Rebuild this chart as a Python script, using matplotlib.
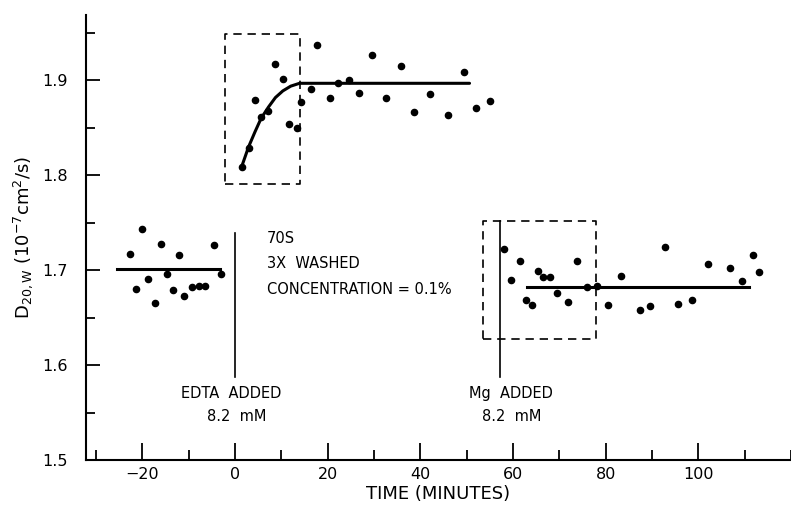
import matplotlib
matplotlib.use("Agg")
import matplotlib.pyplot as plt
from matplotlib.ticker import MultipleLocator

plt.rcParams['font.family'] = ['DejaVu Sans']

# ---- data ----
pre_t = [-22.7, -21.4, -20.0, -18.9, -17.4, -16.1, -14.7, -13.5, -12.2, -11.0,
         -9.3, -7.9, -6.5, -4.5, -3.0]
pre_d = [1.717, 1.680, 1.743, 1.691, 1.665, 1.728, 1.696, 1.679, 1.716, 1.673,
         1.682, 1.683, 1.683, 1.727, 1.696]

edta_t = [1.45, 2.96, 4.38, 5.55, 7.19, 8.64, 10.43, 11.6, 13.3, 14.3, 16.4, 17.6,
          20.4, 22.3, 24.5, 26.8, 29.6, 32.6, 35.8, 38.7, 42.0, 46.0, 49.5, 52.1, 55.1]
edta_d = [1.809, 1.829, 1.879, 1.861, 1.868, 1.917, 1.902, 1.854, 1.850, 1.877,
          1.891, 1.937, 1.882, 1.897, 1.900, 1.887, 1.927, 1.881, 1.915, 1.867,
          1.886, 1.864, 1.909, 1.871, 1.878]

mg_t = [58.1, 59.6, 61.4, 62.8, 64.1, 65.3, 66.5, 68.0, 69.5, 71.9, 73.9, 76.0,
        78.1, 80.6, 83.2, 87.5, 89.6, 92.9, 95.6, 98.7, 102.0, 106.9, 109.4, 111.7, 113.1]
mg_d = [1.722, 1.690, 1.710, 1.669, 1.663, 1.699, 1.693, 1.693, 1.676, 1.666,
        1.710, 1.682, 1.683, 1.663, 1.694, 1.658, 1.662, 1.724, 1.664, 1.669,
        1.707, 1.702, 1.689, 1.716, 1.698]

# fitted lines
pre_fit_t = [-25.5, -3.2]
pre_fit_d = [1.701, 1.701]
rise_fit_t = [1.4, 2.9, 4.3, 5.6, 7.2, 8.7, 10.3, 12.0, 13.9, 50.6]
rise_fit_d = [1.809, 1.830, 1.846, 1.860, 1.872, 1.882, 1.889, 1.894, 1.897, 1.897]
mg_fit_t = [63.0, 110.9]
mg_fit_d = [1.682, 1.682]

# event markers
edta_line_t = [0.0, 0.0]
edta_line_d = [1.587, 1.739]
mg_line_t = [57.2, 57.2]
mg_line_d = [1.587, 1.752]

# dashed boxes
box1_t = [-2.2, 14.0]
box1_d = [1.791, 1.949]
box2_t = [53.5, 78.0]
box2_d = [1.627, 1.752]

xticks_major = [-20, 0, 20, 40, 60, 80, 100]
yticks_major = [1.5, 1.6, 1.7, 1.8, 1.9]

# ---- figure ----
fig = plt.figure(figsize=(7.91, 5.13), dpi=100)
ax = fig.add_axes([0.1087, 0.1033, 0.8913, 0.8675])
ax.set_xlim(-32.2, 120)
ax.set_ylim(1.5, 1.969)

ax.scatter(pre_t, pre_d, s=20, color='black', zorder=3)
ax.scatter(edta_t, edta_d, s=20, color='black', zorder=3)
ax.scatter(mg_t, mg_d, s=20, color='black', zorder=3)

ax.plot(pre_fit_t, pre_fit_d, color='black', lw=2.2)
ax.plot(rise_fit_t, rise_fit_d, color='black', lw=2.2, solid_capstyle='round')
ax.plot(mg_fit_t, mg_fit_d, color='black', lw=2.2)

ax.plot(edta_line_t, edta_line_d, color='black', lw=1.2)
ax.plot(mg_line_t, mg_line_d, color='black', lw=1.2)

for bt, bd in [(box1_t, box1_d), (box2_t, box2_d)]:
    ax.plot([bt[0], bt[1], bt[1], bt[0], bt[0]],
            [bd[0], bd[0], bd[1], bd[1], bd[0]],
            color='black', lw=1.2, ls=(0, (5, 3.5)))

tfont = dict(fontsize=10.5, color='black')
ax.text(6.8, 1.733, "70S", ha='left', va='center', **tfont)
ax.text(6.8, 1.707, "3X  WASHED", ha='left', va='center', **tfont)
ax.text(6.8, 1.680, "CONCENTRATION = 0.1%", ha='left', va='center', **tfont)
ax.text(-0.8, 1.570, "EDTA  ADDED", ha='center', va='center', **tfont)
ax.text(0.3, 1.546, "8.2  mM", ha='center', va='center', **tfont)
ax.text(59.6, 1.570, "Mg  ADDED", ha='center', va='center', **tfont)
ax.text(59.6, 1.546, "8.2  mM", ha='center', va='center', **tfont)

# axes styling
for s in ['top', 'right']:
    ax.spines[s].set_visible(False)
for s in ['left', 'bottom']:
    ax.spines[s].set_linewidth(1.5)

ax.set_xticks(xticks_major)
ax.set_xticklabels(["\u221220" if v < 0 else str(v) for v in xticks_major])
ax.xaxis.set_minor_locator(MultipleLocator(10))
ax.set_yticks(yticks_major)
ax.set_yticklabels([f"{v:.1f}" for v in yticks_major])
ax.yaxis.set_minor_locator(MultipleLocator(0.05))

ax.tick_params(axis='x', which='major', direction='in', length=12, width=1.3,
               labelsize=11.5, pad=5)
ax.tick_params(axis='x', which='minor', direction='in', length=7, width=1.3)
ax.tick_params(axis='y', which='major', direction='in', length=10, width=1.3,
               labelsize=11.5, pad=13)
ax.tick_params(axis='y', which='minor', direction='in', length=6.5, width=1.3)

ax.set_xlabel("TIME (MINUTES)", fontsize=13, labelpad=2)
ax.set_ylabel(r"D$_{20,\mathrm{W}}$ (10$^{-7}$cm$^{2}$/s)", fontsize=13, labelpad=5)

fig.savefig("out.png", dpi=100)
